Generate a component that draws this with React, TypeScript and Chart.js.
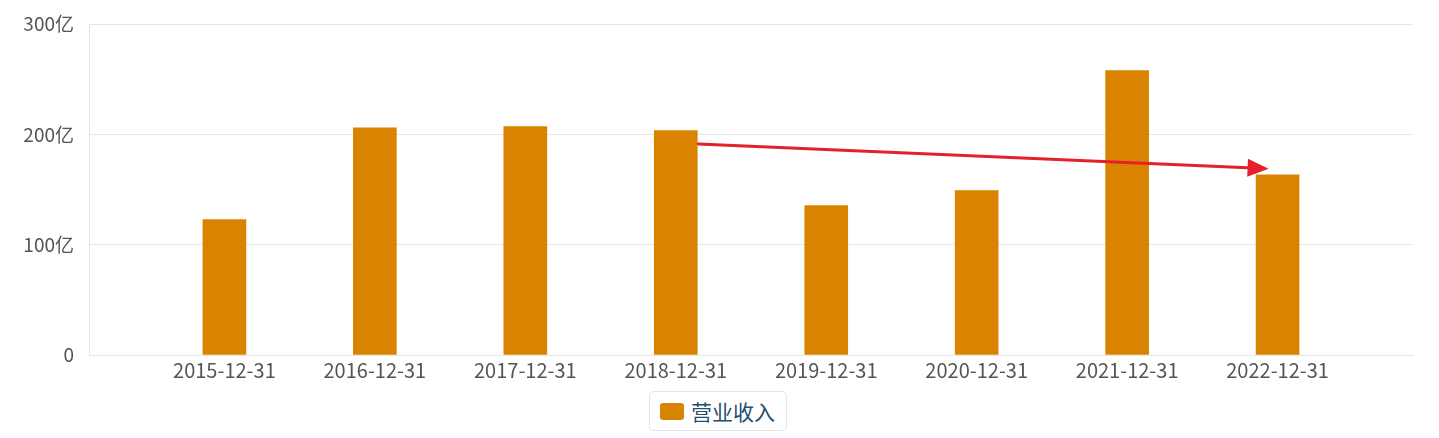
import React, { useEffect, useRef } from "react";
import { Chart, registerables } from "chart.js";

Chart.register(...registerables);

const categories = [
  "2015-12-31",
  "2016-12-31",
  "2017-12-31",
  "2018-12-31",
  "2019-12-31",
  "2020-12-31",
  "2021-12-31",
  "2022-12-31",
];
const revenue = [122.7, 206, 207, 203.4, 135.4, 149, 257.8, 163.2];
const seriesName = "营业收入";
const yTicks = [0, 100, 200, 300];
const arrowFrom = [3.15, 191.3];
const arrowTo = [6.94, 168.8];

const FONT = "'Noto Sans CJK SC', 'Noto Sans', sans-serif";
const BAR_COLOR = "#d98300";
const GRID = "#e6e6e6";

const arrowPlugin = {
  id: "arrowPlugin",
  afterDatasetsDraw(chart: any) {
    const { ctx, scales } = chart;
    const x1 = scales.x.getPixelForValue(arrowFrom[0]);
    const y1 = scales.y.getPixelForValue(arrowFrom[1]);
    const x2 = scales.x.getPixelForValue(arrowTo[0]);
    const y2 = scales.y.getPixelForValue(arrowTo[1]);
    const ang = Math.atan2(y2 - y1, x2 - x1);
    const headLen = 21;
    const headHalf = 9;
    const bx = x2 - headLen * Math.cos(ang);
    const by = y2 - headLen * Math.sin(ang);
    ctx.save();
    ctx.strokeStyle = "#e3202b";
    ctx.fillStyle = "#e3202b";
    ctx.lineWidth = 3;
    ctx.lineCap = "round";
    ctx.beginPath();
    ctx.moveTo(x1, y1);
    ctx.lineTo(bx, by);
    ctx.stroke();
    ctx.beginPath();
    ctx.moveTo(x2, y2);
    ctx.lineTo(bx + headHalf * Math.sin(ang), by - headHalf * Math.cos(ang));
    ctx.lineTo(bx - headHalf * Math.sin(ang), by + headHalf * Math.cos(ang));
    ctx.closePath();
    ctx.fill();
    ctx.restore();
  },
};

export default function App() {
  const canvasRef = useRef<HTMLCanvasElement | null>(null);

  useEffect(() => {
    if (!canvasRef.current) return;
    const chart = new Chart(canvasRef.current, {
      type: "bar",
      data: {
        datasets: [
          {
            label: seriesName,
            data: revenue.map((v, i) => ({ x: i, y: v })),
            backgroundColor: BAR_COLOR,
            barThickness: 43,
          },
        ],
      },
      options: {
        animation: false,
        responsive: true,
        maintainAspectRatio: false,
        layout: { padding: { top: 24, right: 26, left: 0, bottom: 0 } },
        plugins: {
          legend: { display: false },
          tooltip: { enabled: false },
        },
        scales: {
          x: {
            type: "linear",
            offset: false,
            min: -0.9,
            max: categories.length - 0.1,
            afterBuildTicks: (scale: any) => {
              scale.ticks = categories.map((_, i) => ({ value: i }));
            },
            afterFit: (scale: any) => {
              scale.height = 83;
            },
            ticks: {
              autoSkip: false,
              maxRotation: 0,
              padding: 3,
              color: "#555555",
              font: { family: FONT, size: 20 },
              callback: (v: any) => categories[Math.round(Number(v))] ?? "",
            },
            grid: { display: false, drawTicks: false, offset: false },
            border: { display: true, color: GRID, width: 1 },
          },
          y: {
            min: 0,
            max: 300,
            afterBuildTicks: (scale: any) => {
              scale.ticks = yTicks.map((v) => ({ value: v }));
            },
            afterFit: (scale: any) => {
              scale.width = 89;
              scale.paddingTop = 0;
              scale.paddingBottom = 0;
            },
            ticks: {
              padding: 15,
              color: "#555555",
              font: { family: FONT, size: 19 },
              callback: (v: any) => (Number(v) === 0 ? "0" : `${v}亿`),
            },
            grid: { color: GRID, drawTicks: false, lineWidth: 1 },
            border: { display: true, color: GRID, width: 1 },
          },
        },
      },
      plugins: [arrowPlugin],
    } as any);
    return () => chart.destroy();
  }, []);

  return (
    <div
      style={{
        position: "fixed",
        left: 0,
        top: 0,
        width: 1439,
        height: 438,
        background: "#ffffff",
        overflow: "hidden",
      }}
    >
      <div style={{ position: "absolute", left: 0, top: 0, width: 1439, height: 438 }}>
        <canvas ref={canvasRef} />
      </div>
      <div
        style={{
          position: "absolute",
          left: 649,
          top: 391,
          width: 138,
          height: 40,
          boxSizing: "border-box",
          border: "1px solid #e4e4e4",
          borderRadius: 5,
          display: "flex",
          alignItems: "center",
          paddingLeft: 10,
          background: "#ffffff",
        }}
      >
        <span
          style={{
            display: "inline-block",
            width: 24,
            height: 17,
            borderRadius: 3,
            background: BAR_COLOR,
            marginRight: 7,
          }}
        />
        <span
          style={{
            fontFamily: FONT,
            fontSize: 21,
            color: "#24506e",
            lineHeight: "22px",
            whiteSpace: "nowrap",
          }}
        >
          {seriesName}
        </span>
      </div>
    </div>
  );
}
